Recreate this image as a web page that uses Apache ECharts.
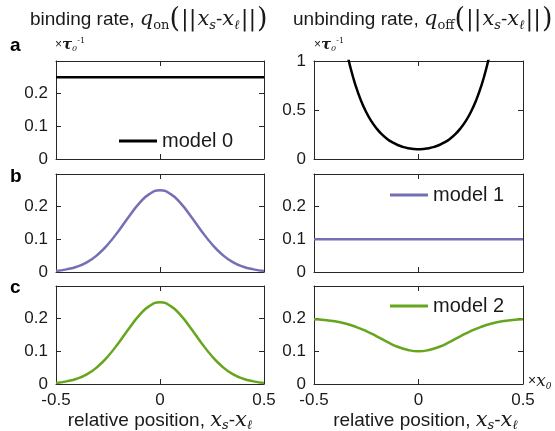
<!DOCTYPE html>
<html>
<head>
<meta charset="utf-8">
<script src="https://cdn.jsdelivr.net/npm/echarts@6/dist/echarts.min.js"></script>
<style>
  html, body { margin: 0; padding: 0; background: #fff; }
  #chart { width: 555px; height: 431px; }
</style>
</head>
<body>
<div id="chart"></div>
<script>
  // relative position x_s - x_l, in units of x0
  const positions = [-0.5, -0.45, -0.4, -0.35, -0.3, -0.25, -0.2, -0.15, -0.1, -0.05, 0,
    0.05, 0.1, 0.15, 0.2, 0.25, 0.3, 0.35, 0.4, 0.45, 0.5]
  const flatPositions = [-0.5, 0.5]
  const steepPositions = [-0.35, -0.325, -0.3, -0.275, -0.25, -0.225, -0.2, -0.175, -0.15, -0.125, -0.1,
    -0.075, -0.05, -0.025, 0, 0.025, 0.05, 0.075, 0.1, 0.125, 0.15, 0.175, 0.2, 0.225, 0.25,
    0.275, 0.3, 0.325, 0.35]

  // binding rates q_on (x tau0^-1)
  const onModel0 = [0.25, 0.25]
  const onModel1 = [0.003, 0.008, 0.016, 0.030, 0.053, 0.085, 0.125, 0.169, 0.210, 0.239, 0.25,
    0.239, 0.210, 0.169, 0.125, 0.085, 0.053, 0.030, 0.016, 0.008, 0.003]
  const onModel2 = [0.003, 0.008, 0.016, 0.030, 0.053, 0.085, 0.125, 0.169, 0.210, 0.239, 0.25,
    0.239, 0.210, 0.169, 0.125, 0.085, 0.053, 0.030, 0.016, 0.008, 0.003]

  // unbinding rates q_off (x tau0^-1)
  const offModel0 = [1.161, 0.928, 0.743, 0.595, 0.477, 0.384, 0.310, 0.251, 0.205, 0.170, 0.143,
    0.124, 0.110, 0.103, 0.1, 0.103, 0.110, 0.124, 0.143, 0.170, 0.205, 0.251, 0.310, 0.384,
    0.477, 0.595, 0.743, 0.928, 1.161]
  const offModel1 = [0.1, 0.1]
  const offModel2 = [0.198, 0.196, 0.192, 0.185, 0.175, 0.162, 0.146, 0.129, 0.114, 0.104, 0.1,
    0.104, 0.114, 0.129, 0.146, 0.162, 0.175, 0.185, 0.192, 0.196, 0.198]

  const axisColor = '#262626'
  const textColor = '#1a1a1a'
  const black = '#000000'
  const purple = '#7570b3'
  const green = '#66a61e'

  const sans = 'Liberation Sans'
  const serif = 'DejaVu Serif'

  // text + inline math (italic serif, subscripts dropped to the bottom of the line)
  function mathRich(size, mathSize, subSize) {
    return {
      rm: { fontFamily: sans, fontWeight: 'normal', fontSize: size, color: textColor, lineHeight: 24 },
      mi: { fontFamily: serif, fontWeight: 'normal', fontStyle: 'italic', fontSize: mathSize, color: textColor, lineHeight: 24 },
      sub: { fontFamily: serif, fontWeight: 'normal', fontStyle: 'italic', fontSize: subSize, color: textColor, lineHeight: 13, verticalAlign: 'bottom' },
      subr: { fontFamily: serif, fontWeight: 'normal', fontSize: subSize, color: textColor, lineHeight: 13, verticalAlign: 'bottom' },
      par: { fontFamily: serif, fontWeight: 'normal', fontSize: mathSize + 6, color: textColor, lineHeight: 24 },
      bar: { fontFamily: serif, fontWeight: 'normal', fontSize: mathSize + 2, color: textColor, lineHeight: 24, padding: [0, 1, 0, 1] }
    }
  }

  const pairs = (xs, ys) => xs.map((x, i) => [x, ys[i]])

  const grids = [
    { left: 56, top: 61, width: 208, height: 98 },
    { left: 314, top: 61, width: 209, height: 98 },
    { left: 56, top: 174, width: 208, height: 98 },
    { left: 314, top: 174, width: 209, height: 98 },
    { left: 56, top: 286, width: 208, height: 98 },
    { left: 314, top: 286, width: 209, height: 98 }
  ].map(g => Object.assign({ outerBoundsMode: 'none', containLabel: false }, g))

  const xAxes = []
  const yAxes = []
  grids.forEach((g, i) => {
    const bottomRow = i >= 4
    const base = {
      gridIndex: i, type: 'value', min: -0.5, max: 0.5, interval: 0.5,
      axisLine: { show: true, onZero: false, lineStyle: { color: axisColor, width: 1 } },
      axisTick: { show: true, inside: true, length: 5, lineStyle: { color: axisColor } },
      splitLine: { show: false }
    }
    xAxes.push(Object.assign({}, base, {
      position: 'bottom',
      axisLabel: {
        show: bottomRow, margin: 8, fontSize: 17, fontFamily: sans, color: textColor,
        formatter: v => String(+v.toFixed(1))
      },
      name: bottomRow ? '{rm|relative position, }{mi|x}{sub|s}{rm|-}{mi|x}{sub|ℓ}' : '',
      nameLocation: 'middle',
      nameGap: 24,
      nameTextStyle: { rich: mathRich(19, 21, 13), padding: i === 5 ? [0, 0, 0, 14] : 0 }
    }))
    xAxes.push(Object.assign({}, base, { position: 'top', axisLabel: { show: false } }))

    const yMax = i === 1 ? 1 : 0.3
    const yInt = i === 1 ? 0.5 : 0.1
    const yBase = {
      gridIndex: i, type: 'value', min: 0, max: yMax, interval: yInt,
      axisLine: { show: true, onZero: false, lineStyle: { color: axisColor, width: 1 } },
      axisTick: { show: true, inside: true, length: 5, lineStyle: { color: axisColor } },
      splitLine: { show: false }
    }
    yAxes.push(Object.assign({}, yBase, {
      position: 'left',
      axisLabel: {
        margin: 8, fontSize: 17, fontFamily: sans, color: textColor,
        formatter: v => (yMax < 0.5 && v > 0.25) ? '' : String(+v.toFixed(2))
      }
    }))
    yAxes.push(Object.assign({}, yBase, { position: 'right', axisLabel: { show: false } }))
  })

  function line(name, grid, xs, ys, color) {
    return {
      name: name, type: 'line', xAxisIndex: grid * 2, yAxisIndex: grid * 2,
      data: pairs(xs, ys), showSymbol: false, smooth: true, clip: true,
      color: color, lineStyle: { color: color, width: 2.5 }, animation: false
    }
  }

  function legendAt(name, left, top) {
    return {
      data: [name], left: left, top: top, padding: 0, icon: 'rect',
      itemWidth: 38, itemHeight: 3, selectedMode: false,
      textStyle: { fontSize: 20, fontFamily: sans, color: textColor }
    }
  }

  const tauLabel = '{x|×}{t|τ}{s|0}{p|-1}'
  const tauRich = {
    x: { fontFamily: sans, fontSize: 12, fill: textColor, lineHeight: 16 },
    t: { fontFamily: serif, fontStyle: 'italic', fontWeight: 'bold', fontSize: 15, fill: textColor, lineHeight: 16 },
    s: { fontFamily: serif, fontStyle: 'italic', fontSize: 8, fill: textColor, lineHeight: 8, verticalAlign: 'bottom' },
    p: { fontFamily: serif, fontSize: 8, fill: textColor, lineHeight: 8, verticalAlign: 'top' }
  }

  const panelLetter = (ch, y) => ({
    type: 'text', left: 10, top: y,
    style: { text: ch, font: 'bold 19px "Liberation Sans"', fill: black }
  })

  const titleRich = mathRich(19, 21, 13)

  const chart = echarts.init(document.getElementById('chart'))
  chart.setOption({
    backgroundColor: '#ffffff',
    title: [
      {
        left: 30, top: 8, padding: 0,
        text: '{rm|binding rate, }{mi|q}{subr|on}{par|(}{bar|||}{mi|x}{sub|s}{rm|-}{mi|x}{sub|ℓ}{bar|||}{par|)}',
        textStyle: { fontWeight: 'normal', rich: titleRich }
      },
      {
        left: 293, top: 8, padding: 0,
        text: '{rm|unbinding rate, }{mi|q}{subr|off}{par|(}{bar|||}{mi|x}{sub|s}{rm|-}{mi|x}{sub|ℓ}{bar|||}{par|)}',
        textStyle: { fontWeight: 'normal', rich: titleRich }
      }
    ],
    grid: grids,
    xAxis: xAxes,
    yAxis: yAxes,
    legend: [
      legendAt('model 0', 119, 131),
      legendAt('model 1', 390, 185),
      legendAt('model 2', 390, 296)
    ],
    graphic: [
      panelLetter('a', 36),
      panelLetter('b', 167),
      panelLetter('c', 278),
      { type: 'text', left: 55, top: 37, style: { text: tauLabel, rich: tauRich } },
      { type: 'text', left: 314, top: 37, style: { text: tauLabel, rich: tauRich } },
      {
        type: 'text', left: 528, top: 373,
        style: {
          text: '{x|×}{m|x}{s|0}',
          rich: {
            x: { fontFamily: sans, fontSize: 14, fill: textColor, lineHeight: 20 },
            m: { fontFamily: serif, fontStyle: 'italic', fontSize: 17, fill: textColor, lineHeight: 20 },
            s: { fontFamily: serif, fontStyle: 'italic', fontSize: 9, fill: textColor, lineHeight: 9, verticalAlign: 'bottom' }
          }
        }
      }
    ],
    series: [
      line('model 0', 0, flatPositions, onModel0, black),
      line('model 0 off', 1, steepPositions, offModel0, black),
      line('model 1 on', 2, positions, onModel1, purple),
      line('model 1', 3, flatPositions, offModel1, purple),
      line('model 2 on', 4, positions, onModel2, green),
      line('model 2', 5, positions, offModel2, green)
    ]
  })
</script>
</body>
</html>
